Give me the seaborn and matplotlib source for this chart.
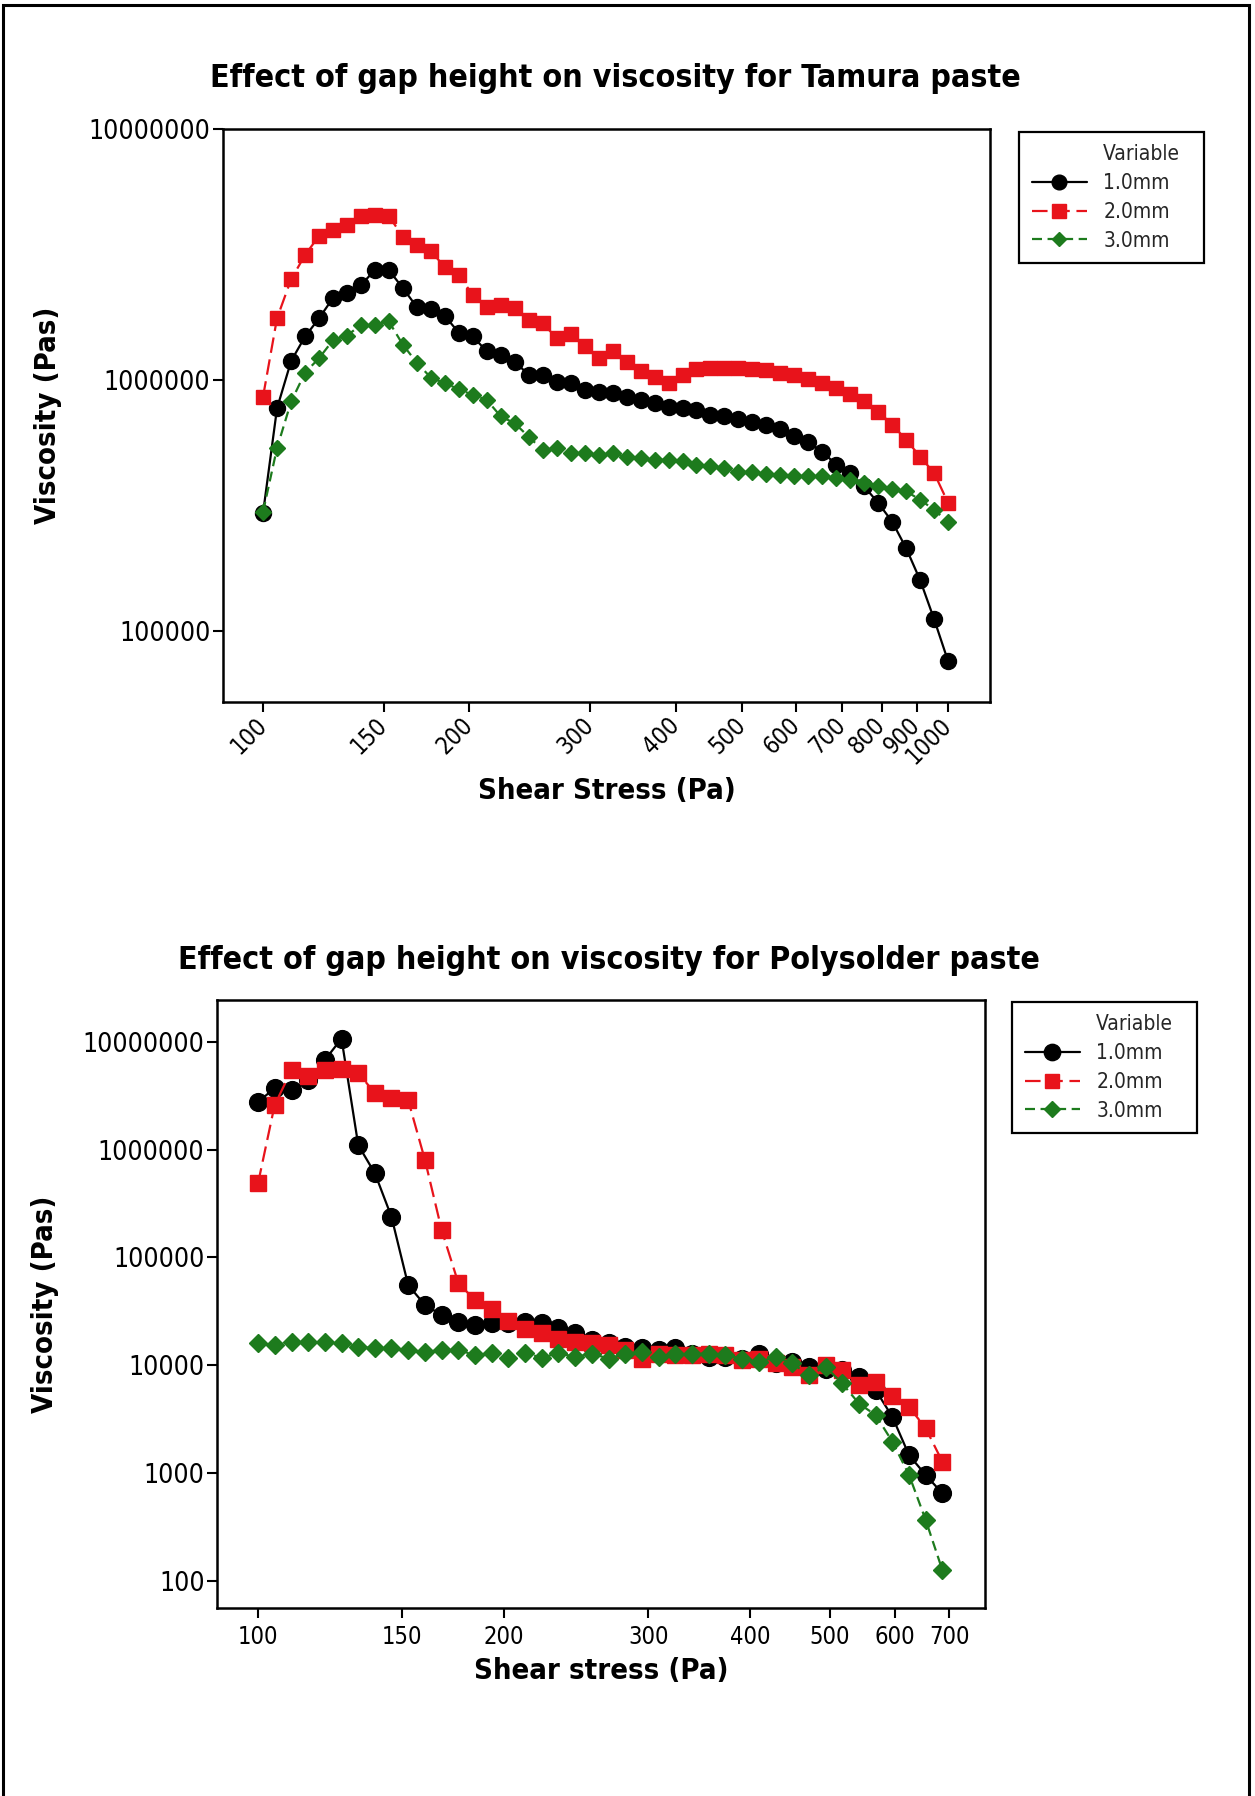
import matplotlib
matplotlib.use("Agg")
import matplotlib.pyplot as plt
import seaborn as sns
import pandas as pd
import numpy as np
from matplotlib import font_manager as fm
from matplotlib.patches import Rectangle
from matplotlib.lines import Line2D
from matplotlib.ticker import FixedLocator, FixedFormatter, NullLocator

# ---------------- data ----------------
gap_labels = ["1.0mm", "2.0mm", "3.0mm"]

stress_top = [100.0, 104.8, 109.9, 115.2, 120.7, 126.5, 132.6, 139.0, 145.6, 152.6,
              160.0, 167.7, 175.8, 184.2, 193.1, 202.3, 212.1, 222.3, 232.9, 244.1,
              255.9, 268.3, 281.2, 294.7, 308.9, 323.7, 339.3, 355.6, 372.8, 390.7,
              409.5, 429.2, 449.8, 471.5, 494.2, 517.9, 542.9, 569.0, 596.4, 625.1,
              655.1, 686.6, 719.7, 754.3, 790.6, 828.6, 868.5, 910.3, 954.1, 1000.0]

tamura_1mm = [2.95e5, 7.7e5, 1.19e6, 1.49e6, 1.76e6, 2.12e6, 2.21e6, 2.39e6, 2.74e6, 2.74e6,
              2.32e6, 1.95e6, 1.91e6, 1.80e6, 1.54e6, 1.49e6, 1.30e6, 1.26e6, 1.18e6, 1.05e6,
              1.05e6, 9.85e5, 9.7e5, 9.12e5, 8.98e5, 8.85e5, 8.58e5, 8.32e5, 8.07e5, 7.83e5,
              7.71e5, 7.55e5, 7.26e5, 7.15e5, 6.97e5, 6.82e5, 6.62e5, 6.36e5, 5.99e5, 5.63e5,
              5.18e5, 4.58e5, 4.24e5, 3.76e5, 3.23e5, 2.72e5, 2.13e5, 1.59e5, 1.11e5, 7.55e4]

tamura_2mm = [8.58e5, 1.76e6, 2.52e6, 3.15e6, 3.75e6, 3.96e6, 4.15e6, 4.5e6, 4.55e6, 4.5e6,
              3.72e6, 3.45e6, 3.25e6, 2.82e6, 2.62e6, 2.18e6, 1.96e6, 1.99e6, 1.93e6, 1.73e6,
              1.68e6, 1.47e6, 1.53e6, 1.36e6, 1.22e6, 1.30e6, 1.18e6, 1.08e6, 1.03e6, 9.7e5,
              1.05e6, 1.10e6, 1.12e6, 1.12e6, 1.12e6, 1.11e6, 1.09e6, 1.07e6, 1.05e6, 1.01e6,
              9.7e5, 9.27e5, 8.8e5, 8.2e5, 7.48e5, 6.62e5, 5.77e5, 4.94e5, 4.25e5, 3.23e5]

tamura_3mm = [2.98e5, 5.35e5, 8.2e5, 1.07e6, 1.22e6, 1.44e6, 1.50e6, 1.66e6, 1.66e6, 1.71e6,
              1.38e6, 1.17e6, 1.02e6, 9.7e5, 9.18e5, 8.71e5, 8.32e5, 7.15e5, 6.72e5, 5.94e5,
              5.26e5, 5.34e5, 5.13e5, 5.13e5, 5.02e5, 5.1e5, 4.92e5, 4.88e5, 4.8e5, 4.8e5,
              4.73e5, 4.58e5, 4.52e5, 4.45e5, 4.31e5, 4.28e5, 4.22e5, 4.18e5, 4.15e5, 4.13e5,
              4.13e5, 4.06e5, 4.0e5, 3.87e5, 3.76e5, 3.67e5, 3.59e5, 3.33e5, 3.03e5, 2.72e5]

stress_bottom = [100.0, 104.8, 109.9, 115.2, 120.7, 126.5, 132.6, 139.0, 145.6, 152.6,
                 160.0, 167.7, 175.8, 184.2, 193.1, 202.3, 212.1, 222.3, 232.9, 244.1,
                 255.9, 268.3, 281.2, 294.7, 308.9, 323.7, 339.3, 355.6, 372.8, 390.7,
                 409.5, 429.2, 449.8, 471.5, 494.2, 517.9, 542.9, 569.0, 596.4, 625.1,
                 655.1, 686.6]

poly_1mm = [2.77e6, 3.7e6, 3.57e6, 4.42e6, 6.77e6, 1.07e7, 1.10e6, 6.0e5, 2.38e5, 5.54e4,
            3.61e4, 2.92e4, 2.53e4, 2.36e4, 2.44e4, 2.48e4, 2.52e4, 2.47e4, 2.19e4, 1.97e4,
            1.73e4, 1.59e4, 1.48e4, 1.43e4, 1.38e4, 1.43e4, 1.28e4, 1.19e4, 1.19e4, 1.15e4,
            1.28e4, 1.05e4, 1.08e4, 9.7e3, 9.3e3, 9.0e3, 7.8e3, 5.87e3, 3.31e3, 1.46e3,
            956, 646]

poly_2mm = [4.85e5, 2.59e6, 5.46e6, 4.81e6, 5.46e6, 5.55e6, 5.15e6, 3.32e6, 2.98e6, 2.88e6,
            8.0e5, 1.79e5, 5.74e4, 4.02e4, 3.3e4, 2.55e4, 2.15e4, 2.0e4, 1.74e4, 1.65e4,
            1.59e4, 1.53e4, 1.38e4, 1.15e4, 1.28e4, 1.24e4, 1.24e4, 1.28e4, 1.24e4, 1.11e4,
            1.15e4, 1.04e4, 9.66e3, 8.07e3, 1.0e4, 9.0e3, 6.5e3, 7.0e3, 5.2e3, 4.1e3,
            2.59e3, 1.27e3]

poly_3mm = [1.59e4, 1.53e4, 1.64e4, 1.64e4, 1.64e4, 1.59e4, 1.48e4, 1.43e4, 1.43e4, 1.38e4,
            1.33e4, 1.38e4, 1.38e4, 1.24e4, 1.3e4, 1.17e4, 1.3e4, 1.17e4, 1.3e4, 1.19e4,
            1.28e4, 1.15e4, 1.28e4, 1.33e4, 1.19e4, 1.28e4, 1.28e4, 1.28e4, 1.24e4, 1.15e4,
            1.07e4, 1.19e4, 1.04e4, 8.07e3, 9.66e3, 6.76e3, 4.4e3, 3.44e3, 1.95e3, 956,
            365, 125]

xticks_top = [100, 150, 200, 300, 400, 500, 600, 700, 800, 900, 1000]
yticks_top = [100000, 1000000, 10000000]
xticks_bottom = [100, 150, 200, 300, 400, 500, 600, 700]
yticks_bottom = [100, 1000, 10000, 100000, 1000000, 10000000]

title_top = "Effect of gap height on viscosity for Tamura paste"
title_bottom = "Effect of gap height on viscosity for Polysolder paste"
legend_title = "Variable"

# ---------------- style ----------------
sns.set_theme(style="ticks")

def find_condensed():
    for f in fm.fontManager.ttflist:
        if f.name.startswith("DejaVu Sans") and "Mono" not in f.name and \
                (f.stretch == "condensed" or "Condensed" in f.name):
            return f.name, "condensed"
    for f in fm.fontManager.ttflist:
        if "Narrow" in f.name or "Condensed" in f.name:
            return f.name, "condensed"
    return None, None

fam, stretch = find_condensed()
if fam is None:
    fam, stretch, sc = "DejaVu Sans", "normal", 0.88
else:
    sc = 1.0
plt.rcParams["font.family"] = [fam, "DejaVu Sans"]
plt.rcParams["font.stretch"] = stretch

colors = {"1.0mm": "#000000", "2.0mm": "#e8131b", "3.0mm": "#1d7b1d"}
markers = {"1.0mm": "o", "2.0mm": "s", "3.0mm": "D"}
dashes = {"1.0mm": "", "2.0mm": (7, 3), "3.0mm": (4.5, 2.5)}

W, H = 1255, 1796
fig = plt.figure(figsize=(W / 100, H / 100), dpi=100)
fig.patch.set_facecolor("white")


def make_panel(rect, x, ys, msizes, xticks, yticks, xlim, ylim, rotate):
    ax = fig.add_axes(rect)
    df = pd.DataFrame({
        "Shear stress": np.concatenate([np.asarray(x, float)] * 3),
        "Viscosity": np.concatenate([np.asarray(y, float) for y in ys]),
        "Variable": np.repeat(gap_labels, len(x)),
    })
    sns.lineplot(data=df, x="Shear stress", y="Viscosity", hue="Variable",
                 style="Variable", palette=colors, markers=markers, dashes=dashes,
                 estimator=None, linewidth=1.6, ax=ax, legend=True)
    col2lab = {matplotlib.colors.to_hex(c): k for k, c in colors.items()}
    for ln in ax.lines:
        lab = col2lab.get(matplotlib.colors.to_hex(ln.get_color()))
        if lab is None:
            continue
        ln.set_markersize(msizes[lab])
        ln.set_markeredgecolor(colors[lab])
        ln.set_markeredgewidth(1.0)
    ax.set_xscale("log")
    ax.set_yscale("log")
    ax.set_xlim(*xlim)
    ax.set_ylim(*ylim)
    ax.xaxis.set_major_locator(FixedLocator(xticks))
    ax.xaxis.set_major_formatter(FixedFormatter([str(t) for t in xticks]))
    ax.xaxis.set_minor_locator(NullLocator())
    ax.yaxis.set_major_locator(FixedLocator(yticks))
    ax.yaxis.set_major_formatter(FixedFormatter([str(t) for t in yticks]))
    ax.yaxis.set_minor_locator(NullLocator())
    for s in ax.spines.values():
        s.set_visible(True)
        s.set_color("black")
        s.set_linewidth(1.8)
    ax.tick_params(axis="both", which="major", direction="out", length=7,
                   width=1.5, color="black", labelcolor="black",
                   bottom=True, left=True, top=False, right=False)
    ax.tick_params(axis="y", labelsize=19 * sc, pad=2)
    ax.tick_params(axis="x", labelsize=17 * sc, pad=7 if rotate else 5)
    if rotate:
        for lbl in ax.get_xticklabels():
            lbl.set_rotation(45)
            lbl.set_ha("right")
            lbl.set_va("center")
            lbl.set_rotation_mode("anchor")
    # legend handles from seaborn
    old = ax.get_legend()
    handles = list(old.legend_handles)
    labels = [t.get_text() for t in old.get_texts()]
    old.remove()
    for h, lab in zip(handles, labels):
        if lab in colors:
            h.set_color(colors[lab])
            h.set_marker(markers[lab])
            h.set_markersize(msizes[lab] * 0.92)
            h.set_markerfacecolor(colors[lab])
            h.set_markeredgecolor(colors[lab])
            h.set_markeredgewidth(1.0)
            h.set_linewidth(1.6)
    return ax, handles, labels


# ---------------- top panel ----------------
ax1, h1, l1 = make_panel(
    [223 / W, 1 - 702 / H, 767 / W, 573 / H], stress_top,
    [tamura_1mm, tamura_2mm, tamura_3mm],
    {"1.0mm": 11.5, "2.0mm": 10.3, "3.0mm": 8.3},
    xticks_top, yticks_top, (87.4, 1151), (5.2e4, 1.0e7), True)
ax1.set_xlabel("Shear Stress (Pa)", fontsize=21 * sc, fontweight="bold", color="black")
ax1.set_ylabel("Viscosity (Pas)", fontsize=21 * sc, fontweight="bold", color="black")
ax1.xaxis.set_label_coords(0.5, -0.131)
ax1.yaxis.set_label_coords(-0.210, 0.5)

# ---------------- bottom panel ----------------
ax2, h2, l2 = make_panel(
    [217 / W, 1 - 1608 / H, 768 / W, 608 / H], stress_bottom,
    [poly_1mm, poly_2mm, poly_3mm],
    {"1.0mm": 12.8, "2.0mm": 11.3, "3.0mm": 9.2},
    xticks_bottom, yticks_bottom, (89.1, 774), (55.9, 2.44e7), False)
ax2.set_xlabel("Shear stress (Pa)", fontsize=21 * sc, fontweight="bold", color="black")
ax2.set_ylabel("Viscosity (Pas)", fontsize=21 * sc, fontweight="bold", color="black")
ax2.xaxis.set_label_coords(0.5, -0.080)
ax2.yaxis.set_label_coords(-0.206, 0.5)

# ---------------- legends (title sits in the text column, as in Minitab) ----------------
for ax, hs, ls, anchor in [(ax1, h1, l1, (1019 / W, 1 - 132 / H)),
                           (ax2, h2, l2, (1012 / W, 1 - 1002 / H))]:
    blank = Line2D([], [], linestyle="none", marker=None, color="none")
    leg = ax.legend([blank] + hs, [legend_title + "  "] + ls, loc="upper left",
                    bbox_to_anchor=anchor, bbox_transform=fig.transFigure,
                    frameon=True, fancybox=False, shadow=False, framealpha=1,
                    edgecolor="black", fontsize=15 * sc,
                    handlelength=2.65, handletextpad=0.8, labelspacing=0.42,
                    borderpad=0.6, borderaxespad=0)
    leg.get_frame().set_linewidth(1.6)

# ---------------- titles ----------------
fig.text(615 / W, 1 - 78 / H, title_top, ha="center", va="center",
         fontsize=23 * sc, fontweight="bold", color="black")
fig.text(609 / W, 1 - 960 / H, title_bottom, ha="center", va="center",
         fontsize=23 * sc, fontweight="bold", color="black")

# page frame
fig.add_artist(Rectangle((3 / W, -0.01), (1249 - 3) / W, 1 - 5 / H + 0.01,
                         transform=fig.transFigure, fill=False, lw=2.2,
                         edgecolor="black"))

fig.savefig("out.png", dpi=100)
